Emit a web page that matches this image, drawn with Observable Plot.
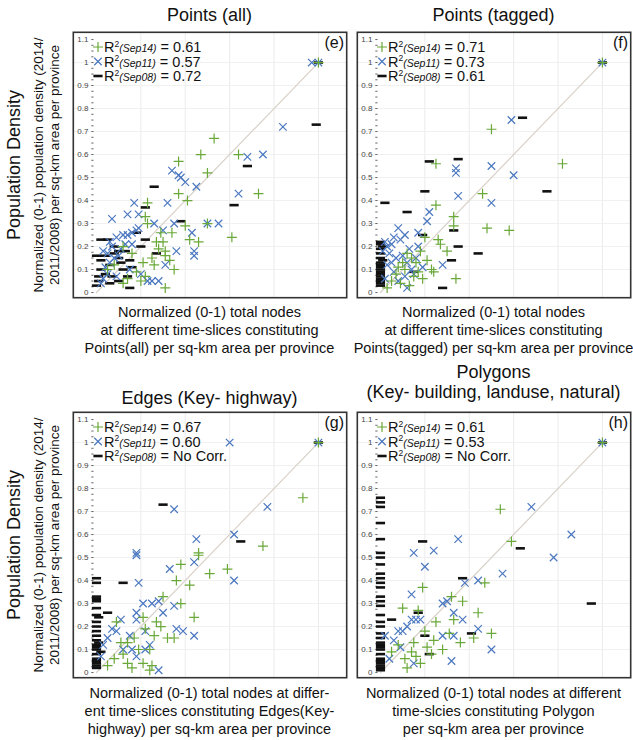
<!DOCTYPE html>
<html><head><meta charset="utf-8">
<script src="https://cdn.jsdelivr.net/npm/d3@7"></script>
<script src="https://cdn.jsdelivr.net/npm/@observablehq/plot@0.6"></script>
<style>
body{margin:0;background:#fff;font-family:"Liberation Sans",Arial,sans-serif;color:#111;}
#root{position:relative;width:633px;height:740px;overflow:hidden;background:#fff;}
.abs{position:absolute;}
.title{font-size:18px;text-align:center;line-height:20px;white-space:nowrap;}
.xlab{font-size:14.5px;text-align:center;line-height:18px;white-space:nowrap;}
.rot{transform:rotate(-90deg);transform-origin:50% 50%;text-align:center;white-space:nowrap;}
</style></head>
<body><div id="root"></div>
<script>
// ---------- data ----------
const titles = ["Points (all)", "Points (tagged)", "Edges (Key- highway)", "Polygons\n(Key- building, landuse, natural)"];
const panelTags = ["(e)", "(f)", "(g)", "(h)"];
const seriesNames = ["Sep14", "Sep11", "Sep08"];
const r2e = ["0.61", "0.57", "0.72"];
const r2f = ["0.71", "0.73", "0.61"];
const r2g = ["0.67", "0.60", "No Corr."];
const r2h = ["0.61", "0.53", "No Corr."];
const yTickValues = [0,0.1,0.2,0.3,0.4,0.5,0.6,0.7,0.8,0.9,1,1.1];
const xLabels = [
 ["Normalized (0-1) total nodes","at different time-slices constituting","Points(all) per sq-km area per province"],
 ["Normalized (0-1) total nodes","at different time-slices constituting","Points(tagged) per sq-km area per province"],
 ["Normalized (0-1) total nodes at differ-","ent time-slices constituting Edges(Key-","highway) per sq-km area per province"],
 ["Normalized (0-1) total nodes at different","time-slcies constituting Polygon","per sq-km area per province"]
];
const yLabelMain = "Population Density";
const yLabelSub = ["Normalized (0-1) population density (2014/","2011/2008) per sq-km area per province"];

// panel (e) Points (all)
const eSep14 = [[1,1],[0.53,0.67],[0.47,0.60],[0.64,0.60],[0.37,0.57],[0.50,0.52],[0.37,0.43],[0.23,0.39],[0.41,0.40],[0.73,0.43],[0.22,0.33],[0.23,0.30],[0.50,0.30],[0.34,0.26],[0.61,0.24],[0.27,0.22],[0.30,0.22],[0.42,0.23],[0.46,0.22],[0.31,0.18],[0.31,0.16],[0.33,0.14],[0.35,0.10],[0.21,0.13],[0.22,0.07],[0.31,0.02],[0.12,0.20],[0.18,0.09],[0.20,0.05],[0.14,0.06],[0.25,0.15],[0.28,0.19],[0.08,0.12],[0.12,0.04],[0.05,0.10],[0.16,0.17],[0.29,0.26],[0.40,0.29],[0.26,0.12]];
const eSep11 = [[1,1],[0.97,1.0],[0.84,0.72],[0.68,0.59],[0.75,0.60],[0.34,0.53],[0.37,0.51],[0.38,0.50],[0.40,0.48],[0.45,0.46],[0.32,0.39],[0.17,0.39],[0.64,0.43],[0.14,0.34],[0.19,0.34],[0.07,0.32],[0.26,0.30],[0.35,0.30],[0.50,0.30],[0.55,0.30],[0.30,0.27],[0.43,0.26],[0.44,0.18],[0.44,0.16],[0.36,0.18],[0.31,0.12],[0.28,0.05],[0.25,0.05],[0.23,0.05],[0.20,0.08],[0.06,0.22],[0.09,0.24],[0.12,0.25],[0.14,0.25],[0.16,0.26],[0.18,0.27],[0.19,0.28],[0.13,0.21],[0.16,0.21],[0.03,0.18],[0.05,0.17],[0.08,0.15],[0.04,0.11],[0.06,0.13],[0.03,0.06],[0.05,0.08],[0.02,0.04],[0.10,0.16],[0.11,0.19],[0.07,0.20],[0.15,0.10],[0.09,0.07]];
const eSep08 = [[1,1],[0.99,0.73],[0.68,0.55],[0.26,0.46],[0.62,0.38],[0.22,0.37],[0.38,0.31],[0.18,0.26],[0.22,0.23],[0.27,0.17],[0.15,0.02],[0.02,0.23],[0.05,0.23],[0.00,0.16],[0.10,0.18],[0.10,0.15],[0.02,0.14],[0.15,0.14],[0.16,0.11],[0.11,0.13],[0.02,0.10],[0.01,0.07],[0.04,0.08],[0.07,0.07],[0.10,0.05],[0.01,0.05],[0.14,0.07],[0.08,0.20],[0.13,0.18],[0.06,0.12],[0.04,0.16],[0.12,0.10],[0.20,0.20],[0.00,0.03],[0.06,0.04],[0.08,0.17]];

// panel (f) Points (tagged)
const fSep14 = [[1,1],[0.50,0.71],[0.25,0.56],[0.82,0.56],[0.46,0.43],[0.25,0.38],[0.33,0.33],[0.33,0.29],[0.48,0.28],[0.58,0.27],[0.26,0.23],[0.30,0.18],[0.23,0.10],[0.34,0.06],[0.20,0.24],[0.27,0.21],[0.12,0.17],[0.16,0.13],[0.14,0.15],[0.11,0.10],[0.17,0.09],[0.19,0.06],[0.07,0.08],[0.09,0.04],[0.13,0.03],[0.05,0.05],[0.10,0.13],[0.21,0.14],[0.15,0.07],[0.24,0.09],[0.03,0.02],[0.08,0.11],[0.18,0.18]];
const fSep11 = [[1,1],[0.59,0.75],[0.34,0.54],[0.50,0.55],[0.60,0.51],[0.34,0.52],[0.35,0.42],[0.50,0.39],[0.22,0.35],[0.21,0.31],[0.08,0.28],[0.17,0.26],[0.17,0.20],[0.28,0.12],[0.12,0.02],[0.02,0.22],[0.03,0.20],[0.01,0.18],[0.05,0.21],[0.04,0.17],[0.06,0.24],[0.09,0.23],[0.11,0.25],[0.07,0.15],[0.10,0.16],[0.13,0.19],[0.03,0.12],[0.06,0.09],[0.02,0.06],[0.08,0.05],[0.11,0.07],[0.14,0.10],[0.05,0.13],[0.16,0.15],[0.19,0.11],[0.12,0.13],[0.15,0.08]];
const fSep08 = [[1,1],[0.64,0.76],[0.22,0.57],[0.35,0.58],[0.20,0.44],[0.75,0.44],[0.02,0.39],[0.12,0.35],[0.33,0.27],[0.19,0.25],[0.35,0.20],[0.44,0.17],[0.32,0.14],[0.28,0.02],[0,0.22],[0,0.21],[0,0.19],[0,0.17],[0,0.15],[0,0.13],[0,0.12],[0,0.11],[0,0.10],[0,0.09],[0,0.08],[0,0.07],[0,0.06],[0,0.05],[0,0.04],[0,0.03],[0.01,0.20],[0.01,0.14],[0.15,0.09]];

// panel (g) Edges
const gSep14 = [[1,1],[0.93,0.76],[0.75,0.55],[0.46,0.52],[0.46,0.51],[0.38,0.47],[0.51,0.43],[0.59,0.45],[0.36,0.40],[0.42,0.38],[0.30,0.33],[0.38,0.30],[0.44,0.24],[0.09,0.22],[0.21,0.24],[0.27,0.22],[0.26,0.16],[0.32,0.15],[0.35,0.15],[0.17,0.15],[0.14,0.13],[0.11,0.13],[0.24,0.10],[0.08,0.06],[0.14,0.04],[0.21,0.04],[0.25,0.03],[0.24,0.01],[0.05,0.03],[0.19,0.10],[0.22,0.19],[0.12,0.08],[0.29,0.20],[0.16,0.02]];
const gSep11 = [[1,1],[0.60,1.0],[0.35,0.71],[0.77,0.72],[0.45,0.58],[0.62,0.60],[0.18,0.52],[0.18,0.51],[0.44,0.48],[0.33,0.45],[0.62,0.40],[0.19,0.39],[0.21,0.30],[0.25,0.30],[0.28,0.31],[0.35,0.29],[0.30,0.26],[0.18,0.26],[0.11,0.23],[0.18,0.23],[0.22,0.18],[0.36,0.19],[0.39,0.18],[0.44,0.16],[0.09,0.18],[0.07,0.19],[0.15,0.16],[0.24,0.12],[0.16,0.10],[0.22,0.10],[0.18,0.07],[0.28,0.01],[0.02,0.07],[0.03,0.12],[0.05,0.15],[0.12,0.10]];
const gSep08 = [[1,1],[0.30,0.73],[0.65,0.57],[0.12,0.39],[0.05,0.26],[0,0.41],[0,0.39],[0,0.33],[0,0.32],[0,0.31],[0,0.28],[0,0.25],[0,0.22],[0,0.20],[0,0.18],[0,0.16],[0,0.14],[0,0.12],[0,0.11],[0,0.10],[0,0.08],[0,0.06],[0,0.05],[0,0.04],[0,0.03],[0,0.02],[0.01,0.13],[0.02,0.09],[0.01,0.24]];

// panel (h) Polygons
const hSep14 = [[1,1],[0.54,0.71],[0.59,0.57],[0.47,0.39],[0.19,0.37],[0.32,0.33],[0.37,0.31],[0.10,0.28],[0.44,0.26],[0.25,0.22],[0.33,0.23],[0.20,0.18],[0.42,0.15],[0.50,0.17],[0.28,0.10],[0.21,0.11],[0.08,0.12],[0.05,0.09],[0.12,0.02],[0.14,0.09],[0.16,0.07],[0.18,0.04],[0.24,0.14],[0.31,0.17],[0.15,0.13],[0.11,0.06],[0.23,0.08],[0.36,0.13],[0.17,0.27]];
const hSep11 = [[1,1],[0.68,0.72],[0.86,0.60],[0.35,0.58],[0.15,0.52],[0.24,0.53],[0.78,0.50],[0.20,0.46],[0.38,0.39],[0.44,0.40],[0.55,0.43],[0.14,0.34],[0.28,0.30],[0.30,0.31],[0.33,0.26],[0.14,0.23],[0.16,0.23],[0.18,0.23],[0.37,0.23],[0.08,0.18],[0.10,0.18],[0.28,0.16],[0.33,0.16],[0.44,0.19],[0.50,0.10],[0.09,0.11],[0.15,0.04],[0.32,0.05],[0.04,0.06],[0.02,0.16],[0.06,0.14],[0.12,0.20]];
const hSep08 = [[1,1],[0.19,0.57],[0.63,0.54],[0.37,0.41],[0.95,0.30],[0.17,0.26],[0.20,0.16],[0.41,0.17],[0.22,0.08],[0.05,0.23],[0,0.76],[0,0.74],[0,0.72],[0,0.65],[0,0.58],[0,0.52],[0,0.50],[0,0.47],[0,0.43],[0,0.41],[0,0.39],[0,0.37],[0,0.33],[0,0.31],[0,0.29],[0,0.25],[0,0.22],[0,0.20],[0,0.17],[0,0.15],[0,0.13],[0,0.12],[0,0.11],[0,0.10],[0,0.08],[0,0.06],[0,0.05],[0,0.04],[0,0.03],[0,0.02],[0,0.01]];

// ---------- drawing ----------
const COL14 = "#6aa839", COL11 = "#4b78c0", COL08 = "#111111";
const W = 275, H = 267;
const XD = [-0.108, 1.131], YD = [-0.026, 1.135];
const root = document.getElementById("root");

function sym(kind){
  return {draw(ctx, size){
    const r = Math.sqrt(size/Math.PI);
    if(kind==="plus"){ctx.moveTo(-r,0);ctx.lineTo(r,0);ctx.moveTo(0,-r);ctx.lineTo(0,r);}
    else if(kind==="times"){const s=r*0.72;ctx.moveTo(-s,-s);ctx.lineTo(s,s);ctx.moveTo(-s,s);ctx.lineTo(s,-s);}
    else {ctx.moveTo(-r,0);ctx.lineTo(r,0);}
  }};
}
const SYM = {plus: sym("plus"), times: sym("times"), dash: sym("dash")};
const STY = {
  plus: {r:5, stroke:COL14, strokeWidth:1.2},
  times:{r:5.2, stroke:COL11, strokeWidth:1.2},
  dash: {r:4.6, stroke:COL08, strokeWidth:2.6}
};

function addDiv(cls, text, left, top, w, extra){
  const d = document.createElement("div");
  d.className = "abs " + cls;
  d.style.left = left+"px"; d.style.top = top+"px";
  if (w) d.style.width = w+"px";
  if (extra) Object.assign(d.style, extra);
  d.innerHTML = text;
  root.appendChild(d);
  return d;
}

function panel(left, top, s14, s11, s08, r2, tag){
  const minor = d3.range(0, 45).map(i => i/40);
  const svg = Plot.plot({
    width: W, height: H, margin: 0,
    x: {domain: XD, axis: null},
    y: {domain: YD, axis: null},
    style: {background: "transparent", overflow: "visible"},
    marks: [
      Plot.ruleX([0.2,0.4,0.6,0.8,1.0], {stroke:"#ebebeb", strokeWidth:1}),
      Plot.ruleY([0.1,0.2,0.3,0.4,0.5,0.6,0.7,0.8,0.9,1.0], {stroke:"#f0f0f0", strokeWidth:1}),
      Plot.line([[0,0],[1,1]], {x:d=>d[0], y:d=>d[1], stroke:"#d9d1c9", strokeWidth:1.2}),
      Plot.ruleY(minor, {y:d=>d, x1:()=>-0.021, x2:()=>-0.011, stroke:"#666", strokeWidth:1}),
      Plot.text(yTickValues, {x:()=>-0.036, y:d=>d, text:d=>String(d), textAnchor:"end", fontSize:8, fill:"#444", fontFamily:"Liberation Sans, Arial, sans-serif"}),
      Plot.dot(s08, {x:d=>d[0], y:d=>d[1], symbol:SYM.dash, ...STY.dash, fill:"none"}),
      Plot.dot(s11, {x:d=>d[0], y:d=>d[1], symbol:SYM.times, ...STY.times, fill:"none"}),
      Plot.dot(s14, {x:d=>d[0], y:d=>d[1], symbol:SYM.plus, ...STY.plus, fill:"none"}),
      Plot.frame({stroke:"#333", strokeWidth:1.6, inset:0.8})
    ]
  });
  svg.style.position = "absolute";
  svg.style.left = left+"px"; svg.style.top = top+"px";
  const g = d3.select(svg).append("g").attr("font-family","Liberation Sans, Arial, sans-serif").attr("fill","#111").attr("text-anchor","start");
  const kinds = ["plus","times","dash"];
  kinds.forEach((k,i)=>{
    const y = 16 + i*14.5;
    const st = STY[k];
    g.append("path").attr("transform",`translate(26,${y})`)
      .attr("d", d3.symbol().type(SYM[k]).size(Math.PI*st.r*st.r)())
      .attr("stroke", st.stroke).attr("stroke-width", st.strokeWidth).attr("fill","none");
    const t = g.append("text").attr("x",32).attr("y",y+5).attr("font-size",14.5);
    t.append("tspan").text("R");
    t.append("tspan").attr("font-size",8.5).attr("dy",-5.5).text("2");
    t.append("tspan").attr("font-size",10.5).attr("font-style","italic").attr("dy",5.5).text("(" + seriesNames[i] + ")");
    t.append("tspan").text(" = " + r2[i]);
  });
  g.append("text").attr("x",W-3).attr("y",17).attr("text-anchor","end").attr("font-size",16).text(tag);
  root.appendChild(svg);
}

const PL = [[72,31],[356,31],[72,411],[356,411]];
panel(PL[0][0],PL[0][1], eSep14,eSep11,eSep08, r2e, panelTags[0]);
panel(PL[1][0],PL[1][1], fSep14,fSep11,fSep08, r2f, panelTags[1]);
panel(PL[2][0],PL[2][1], gSep14,gSep11,gSep08, r2g, panelTags[2]);
panel(PL[3][0],PL[3][1], hSep14,hSep11,hSep08, r2h, panelTags[3]);

// titles
addDiv("title", titles[0], PL[0][0], 5, W);
addDiv("title", titles[1], PL[1][0], 5, W);
addDiv("title", titles[2], PL[2][0]-20, 388, W+40);
addDiv("title", titles[3].replace("\n","<br>"), PL[3][0]-30, 362, W+60, {lineHeight:"20px"});

// x labels
[[0,303],[1,303],[2,684],[3,684]].forEach(([i,t])=>{
  addDiv("xlab", xLabels[i].join("<br>"), PL[i][0]-40, t, W+80);
});

// y labels
[165, 545].forEach(cy=>{
  const w1 = 300;
  addDiv("rot", yLabelMain, 14 - w1/2, cy-11, w1, {fontSize:"18px", lineHeight:"22px", height:"22px"});
  addDiv("rot", yLabelSub.join("<br>"), 47 - w1/2, cy-16, w1, {fontSize:"13.5px", lineHeight:"16px", height:"32px"});
});
</script>
</body></html>
